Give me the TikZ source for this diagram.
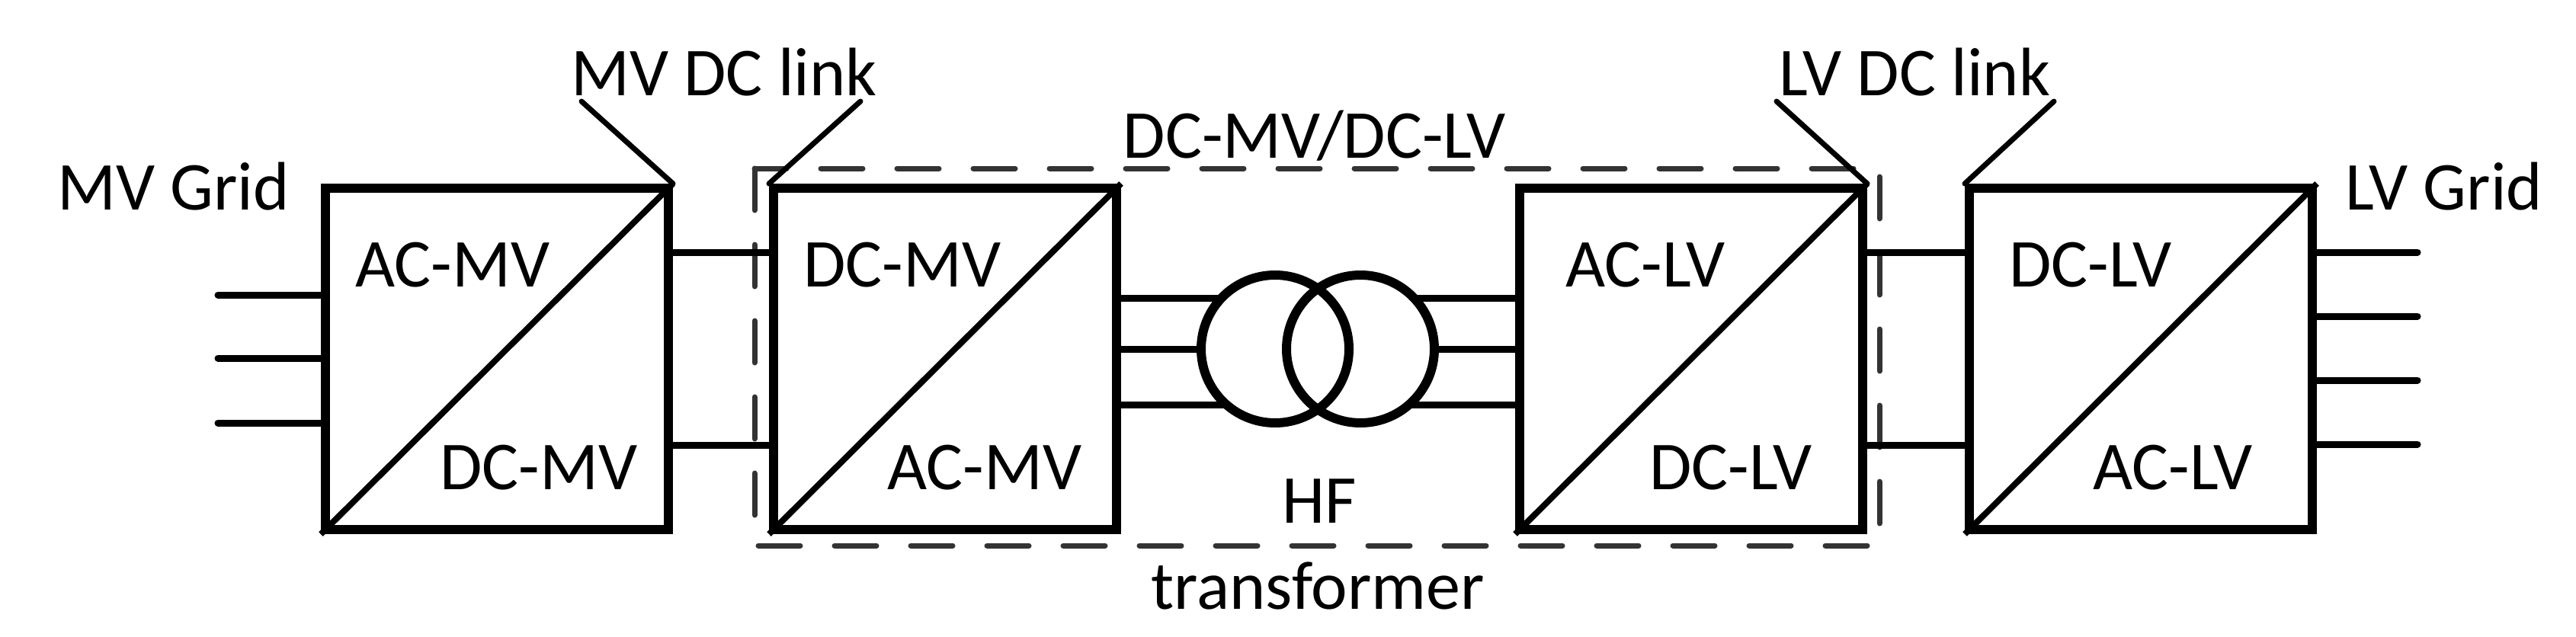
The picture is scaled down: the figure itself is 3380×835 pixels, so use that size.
\documentclass[tikz,border=0pt]{standalone}
\usepackage{fontspec}
\setmainfont{Carlito}
\begin{document}
\begin{tikzpicture}[x=1pt,y=-1pt,
  box/.style={draw,line width=12pt,minimum width=450pt,minimum height=448pt,inner sep=0pt},
  wire/.style={line width=9pt,line cap=round},
  diag/.style={line width=8pt},
  lead/.style={line width=7pt,line cap=round},
  lbl/.style={font=\fontsize{90pt}{100pt}\selectfont,inner sep=0pt,anchor=base west},
  clbl/.style={font=\fontsize{90pt}{100pt}\selectfont,inner sep=0pt,anchor=base},
  grp/.style={draw=black!80,line width=7pt,line cap=round,dash pattern=on 55pt off 45pt}]
\useasboundingbox (0,0) rectangle (3380,835);
% boxes
\node[box] (b1) at (652,471) {};
\node[box] (b2) at (1240,471) {};
\node[box] (b3) at (2219,471) {};
\node[box] (b4) at (2809,471) {};
\foreach \b in {b1,b2,b3,b4}{\draw[diag] (\b.south west) -- (\b.north east);}
% dashed group
\draw[grp] (990,221) rectangle (2466,716);
% grid wires
\coordinate (gl1) at (286,387);\coordinate (gl2) at (286,470);\coordinate (gl3) at (286,555);
\foreach \g in {gl1,gl2,gl3}{\draw[wire] (\g) -- (b1.west|-\g);}
\coordinate (gr1) at (3172,331);\coordinate (gr2) at (3172,415);\coordinate (gr3) at (3172,499);\coordinate (gr4) at (3172,583);
\foreach \g in {gr1,gr2,gr3,gr4}{\draw[wire] (b4.east|-\g) -- (\g);}
% dc links
\coordinate (l1) at (0,331);\coordinate (l2) at (0,584);
\foreach \g in {l1,l2}{\draw[wire,line cap=butt] (b1.east|-\g) -- (b2.west|-\g);
  \draw[wire,line cap=butt] (b3.east|-\g) -- (b4.west|-\g);}
% transformer
\node[circle,minimum size=194pt,inner sep=0pt] (c1) at (1673,458) {};
\node[circle,minimum size=194pt,inner sep=0pt] (c2) at (1785,458) {};
\coordinate (t1) at (0,391);\coordinate (t2) at (0,458);\coordinate (t3) at (0,531);
\foreach \g in {t1,t2,t3}{\draw[wire,line cap=butt] (b2.east|-\g) -- (c1.center|-\g);
  \draw[wire,line cap=butt] (c2.center|-\g) -- (b3.west|-\g);}
\fill[white] (c1.center) circle (97pt) (c2.center) circle (97pt);
\draw[line width=12pt] (c1.center) circle (97pt) (c2.center) circle (97pt);
% leaders
\coordinate (m1) at (763,133);\coordinate (m2) at (1129,133);
\coordinate (n1) at (2331,133);\coordinate (n2) at (2695,133);
\draw[lead] (m1) -- (b1.north east);
\draw[lead] (m2) -- (b2.north west);
\draw[lead] (n1) -- (b3.north east);
\draw[lead] (n2) -- (b4.north west);
% labels
\node[lbl] (tmv) at (749,125) {MV DC link};
\node[lbl] (tlv) at (2334,125) {LV DC link};
\node[lbl] (tmg) at (75,275) {MV Grid};
\node[lbl] (tlg) at (3077,275) {LV Grid};
\node[clbl] (tdd) at (1725,207) {DC-MV/DC-LV};
\node[clbl] (thf) at (1731,686) {HF};
\node[clbl] (ttr) at (1729,799) {transformer};
\node[lbl] at (466,376) {AC-MV};
\node[lbl] at (577,642) {DC-MV};
\node[lbl] at (1054,376) {DC-MV};
\node[lbl] at (1164,642) {AC-MV};
\node[lbl] at (2054,376) {AC-LV};
\node[lbl] at (2164,642) {DC-LV};
\node[lbl] at (2636,376) {DC-LV};
\node[lbl] at (2746,642) {AC-LV};
\end{tikzpicture}
\end{document}
